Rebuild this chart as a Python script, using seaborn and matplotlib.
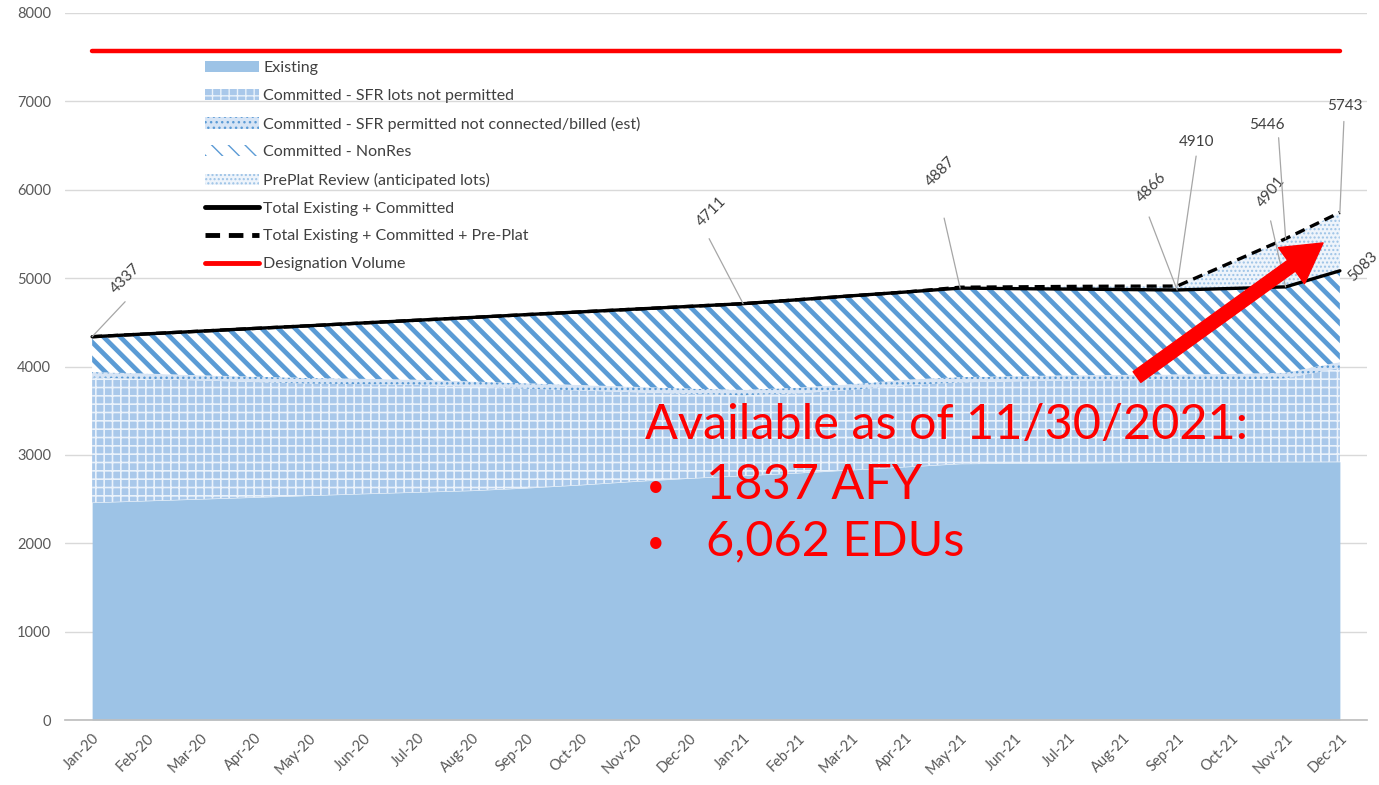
import numpy as np
import pandas as pd
import seaborn as sns
import matplotlib.pyplot as plt

months = ["Jan-20", "Feb-20", "Mar-20", "Apr-20", "May-20", "Jun-20", "Jul-20", "Aug-20",
          "Sep-20", "Oct-20", "Nov-20", "Dec-20", "Jan-21", "Feb-21", "Mar-21", "Apr-21",
          "May-21", "Jun-21", "Jul-21", "Aug-21", "Sep-21", "Oct-21", "Nov-21", "Dec-21"]
existing = [2460, 2480, 2500, 2520, 2540, 2560, 2578, 2596, 2625, 2660, 2700, 2735,
            2765, 2795, 2830, 2865, 2900, 2905, 2908, 2912, 2915, 2918, 2920, 2922]
sfr_lots = [1417, 1378, 1342, 1304, 1267, 1240, 1214, 1177, 1125, 1068, 1009, 956,
            910, 902, 906, 923, 920, 927, 933, 932, 935, 935, 947, 1063]
sfr_permitted = [60, 62, 58, 61, 63, 60, 58, 57, 60, 62, 61, 59,
                 60, 63, 64, 62, 60, 58, 59, 61, 60, 62, 63, 65]
total_committed = [4337, 4369, 4400, 4431, 4461, 4493, 4524, 4555, 4587, 4618, 4649, 4680,
                   4711, 4755, 4800, 4843, 4887, 4881, 4876, 4871, 4866, 4883, 4901, 5083]
total_preplat = [4337, 4369, 4400, 4431, 4461, 4493, 4524, 4555, 4587, 4618, 4649, 4680,
                 4711, 4755, 4800, 4843, 4897, 4901, 4906, 4909, 4910, 5178, 5446, 5743]
designation = [7570] * 24

df = pd.DataFrame({"month": months, "existing": existing, "sfr_lots": sfr_lots,
                   "sfr_permitted": sfr_permitted, "total": total_committed,
                   "total_pp": total_preplat, "designation": designation})
df["x"] = np.arange(len(df))
lvl1 = df["existing"]
lvl2 = lvl1 + df["sfr_lots"]
lvl3 = lvl2 + df["sfr_permitted"]

sns.set_theme(style="white")
plt.rcParams["font.family"] = ["Lato", "DejaVu Sans"]

fig = plt.figure(figsize=(13.79, 7.85), dpi=100)
ax = fig.add_axes([65 / 1379, 65 / 785, 1302 / 1379, 707 / 785])

def band(lo, hi, label, fc, ec, hatch=None, hlw=1.0):
    with plt.rc_context({"hatch.linewidth": hlw}):
        pc = ax.fill_between(df["x"], lo, hi, facecolor=fc, edgecolor=ec, hatch=hatch,
                             linewidth=0, label=label, zorder=2)
    if hasattr(pc, "set_hatch_linewidth"):
        pc.set_hatch_linewidth(hlw)
    return pc

band(0, lvl1, "Existing", "#9DC3E6", "#9DC3E6")
band(lvl1, lvl2, "Committed - SFR lots not permitted", "#A9C8EA", "#EAF2FB", "++", 1.2)
band(lvl2, lvl3, "Committed - SFR permitted not connected/billed (est)", "#D6E4F5", "#5B9BD5", "...", 1.0)
band(lvl3, df["total"], "Committed - NonRes", "white", "#5B9BD5", "\\\\", 3.4)
band(df["total"], df["total_pp"], "PrePlat Review (anticipated lots)", "#EEF4FB", "#9DC3E6", "....", 1.0)

sns.lineplot(data=df, x="x", y="total_pp", ax=ax, color="black", lw=2.4,
             linestyle=(0, (3, 1.8)), label="Total Existing + Committed + Pre-Plat", zorder=4)
sns.lineplot(data=df, x="x", y="total", ax=ax, color="black", lw=2.4,
             label="Total Existing + Committed", zorder=5)
sns.lineplot(data=df, x="x", y="designation", ax=ax, color="#FF0000", lw=3.2,
             label="Designation Volume", zorder=5)

ax.set_xlim(-0.5, 23.5)
ax.set_ylim(0, 8000)
ax.set_yticks(range(0, 8001, 1000))
ax.yaxis.grid(True, color="#D9D9D9", lw=1)
ax.set_axisbelow(True)
ax.set_xticks(df["x"])
ax.set_xticklabels(months, rotation=45, ha="right", rotation_mode="anchor")
ax.set_xticks(np.arange(-0.5, 24, 1), minor=True)
ax.tick_params(axis="x", which="major", length=0, pad=8, labelsize=10.5, labelcolor="#595959")
ax.tick_params(axis="x", which="minor", length=5, color="#BFBFBF", width=1)
ax.tick_params(axis="y", length=0, labelsize=10.5, labelcolor="#595959", pad=10)
for s in ["top", "right", "left"]:
    ax.spines[s].set_visible(False)
ax.spines["bottom"].set_color("#BFBFBF")
ax.set_xlabel("")
ax.set_ylabel("")

# data labels: (index, series, leader end offset px, text offset px, rotation)
labels = [(0, "total", (33, 35), (33, 58), 45),
          (12, "total", (-34, 65), (-32, 92), 45),
          (16, "total", (-16, 70), (-20, 116), 45),
          (20, "total", (-28, 73), (-26, 102), 45),
          (20, "total_pp", (19, 130), (19, 144), 0),
          (22, "total", (-15, 66), (-14, 95), 50),
          (22, "total_pp", (-7, 101), (-19, 114), 0),
          (23, "total_pp", (4, 91), (5, 106), 0),
          (23, "total", None, (23, 4), 45)]
for i, col, lead, txt, rot in labels:
    val = df[col][i]
    if lead is not None:
        ax.annotate("", xy=(i, val), xytext=(lead[0] * 0.72, lead[1] * 0.72),
                    textcoords="offset points",
                    arrowprops=dict(arrowstyle="-", color="#A6A6A6", lw=0.9,
                                    shrinkA=0, shrinkB=0), zorder=6)
    ax.annotate(str(val), xy=(i, val), xytext=(txt[0] * 0.72, txt[1] * 0.72),
                textcoords="offset points", rotation=rot, ha="center", va="center",
                fontsize=11, color="#404040", zorder=6, annotation_clip=False)

ax.annotate("", xy=(22.69, 5398), xytext=(19.26, 3881),
            arrowprops=dict(facecolor="#FF0000", edgecolor="#FF0000", width=9.5,
                            headwidth=32, headlength=28), zorder=7)

fig.text(645 / 1379, 1 - 425 / 785, "Available as of 11/30/2021:", color="#FF0000",
         fontsize=35, ha="left", va="center")
for yy, t in [(485, "1837 AFY"), (541, "6,062 EDUs")]:
    fig.text(647 / 1379, 1 - (yy + 2) / 785, "\u2022", color="#FF0000", fontsize=22,
             ha="left", va="center")
    fig.text(706 / 1379, 1 - yy / 785, t, color="#FF0000", fontsize=35,
             ha="left", va="center")

h, l = ax.get_legend_handles_labels()
order = ["Existing", "Committed - SFR lots not permitted",
         "Committed - SFR permitted not connected/billed (est)", "Committed - NonRes",
         "PrePlat Review (anticipated lots)", "Total Existing + Committed",
         "Total Existing + Committed + Pre-Plat", "Designation Volume"]
hmap = dict(zip(l, h))
leg = ax.legend([hmap[k] for k in order], order, loc="upper left",
                bbox_to_anchor=(205 / 1379, 1 - 61 / 785), bbox_transform=fig.transFigure,
                frameon=False, fontsize=11.5, labelspacing=0.85, handlelength=3.4,
                handletextpad=0.25, borderpad=0, borderaxespad=0, labelcolor="#404040")
for ln in leg.get_lines():
    ln.set_linewidth(3.5)
    ln.set_solid_capstyle("round")

fig.savefig("out.png", dpi=100)
